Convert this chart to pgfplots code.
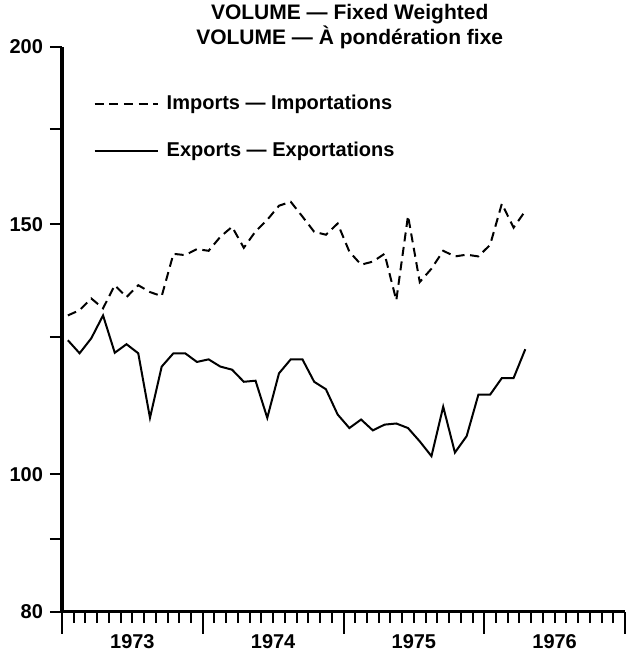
\documentclass[border=0pt]{standalone}
\usepackage{fontspec}
\setmainfont{Liberation Sans}
\usepackage{pgfplots}
\pgfplotsset{compat=1.18}
\begin{document}
\begin{tikzpicture}
\begin{axis}[
  at={(0,0)}, anchor=south west,
  scale only axis,
  width=281.5pt, height=282.5pt,
  xmin=0, xmax=48,
  ymode=log, ymin=80, ymax=200,
  axis x line=bottom, axis y line=left,
  axis line style={-, line width=1.5pt},
  tick align=outside,
  major tick length=6pt,
  minor tick length=5.5pt,
  every tick/.style={line width=1pt, black},
  ytick={80,90,100,125,150,175,200},
  yticklabels={80,,100,,150,,200},
  xtick={6,18,30,42},
  xticklabels={1973,1974,1975,1976},
  major x tick style={draw=none},
  minor x tick style={draw=black, line width=1pt},
  minor xtick={0,1,...,48},
  extra x ticks={0,12,24,36,48},
  extra x tick labels={},
  extra x tick style={major tick length=11pt, major x tick style={line width=1pt, draw=black}},
  /pgf/number format/assume math mode=true,
  tick label style={font=\bfseries\fontsize{10}{12}\selectfont},
  xticklabel style={yshift=-2pt},
  title={VOLUME — Fixed Weighted\\VOLUME — À pondération fixe},
  title style={align=center, font=\bfseries\fontsize{10.5}{11.5}\selectfont, at={(0.511,1)}, anchor=south, yshift=-10.5pt},
  legend style={draw=none, fill=none, at={(0.045,0.93)}, anchor=north west,
    font=\bfseries\fontsize{10}{12}\selectfont, row sep=11pt, column sep=2pt},
  legend cell align=left,
  legend image code/.code={\draw[#1] (0pt,0pt) -- (31.5pt,0pt);},
]
\addplot[black, line width=1pt, dash pattern=on 4.5pt off 2.8pt] coordinates {
(0.5,129.4) (1.5,130.5) (2.5,133.0) (3.5,130.9) (4.5,135.9) (5.5,133.3) (6.5,135.9) (7.5,134.4)
(8.5,133.5) (9.5,143.0) (10.5,142.7) (11.5,144.1) (12.5,143.7) (13.5,147.0) (14.5,149.4) (15.5,144.4)
(16.5,148.3) (17.5,151.1) (18.5,154.6) (19.5,155.6) (20.5,151.9) (21.5,148.2) (22.5,147.5) (23.5,150.2)
(24.5,143.5) (25.5,140.5) (26.5,141.2) (27.5,143.0) (28.5,132.6) (29.5,152.1) (30.5,136.6) (31.5,139.6)
(32.5,143.7) (33.5,142.4) (34.5,142.8) (35.5,142.4) (36.5,145.1) (37.5,155.1) (38.5,149.2) (39.5,153.3)
};
\addlegendentry{Imports — Importations}
\addplot[black, line width=1pt] coordinates {
(0.5,124.3) (1.5,121.7) (2.5,124.7) (3.5,129.4) (4.5,121.8) (5.5,123.5) (6.5,121.7) (7.5,109.6)
(8.5,119.1) (9.5,121.7) (10.5,121.7) (11.5,120.0) (12.5,120.5) (13.5,119.1) (14.5,118.5) (15.5,116.2)
(16.5,116.4) (17.5,109.6) (18.5,117.8) (19.5,120.5) (20.5,120.5) (21.5,116.2) (22.5,114.8) (23.5,110.2)
(24.5,107.8) (25.5,109.3) (26.5,107.4) (27.5,108.4) (28.5,108.6) (29.5,107.8) (30.5,105.5) (31.5,103.0)
(32.5,111.6) (33.5,103.6) (34.5,106.4) (35.5,113.8) (36.5,113.8) (37.5,116.9) (38.5,116.9) (39.5,122.5)
};
\addlegendentry{Exports — Exportations}
\end{axis}
\pgfresetboundingbox
\useasboundingbox (-31pt,-20pt) rectangle (282pt,306pt);
\end{tikzpicture}
\end{document}
